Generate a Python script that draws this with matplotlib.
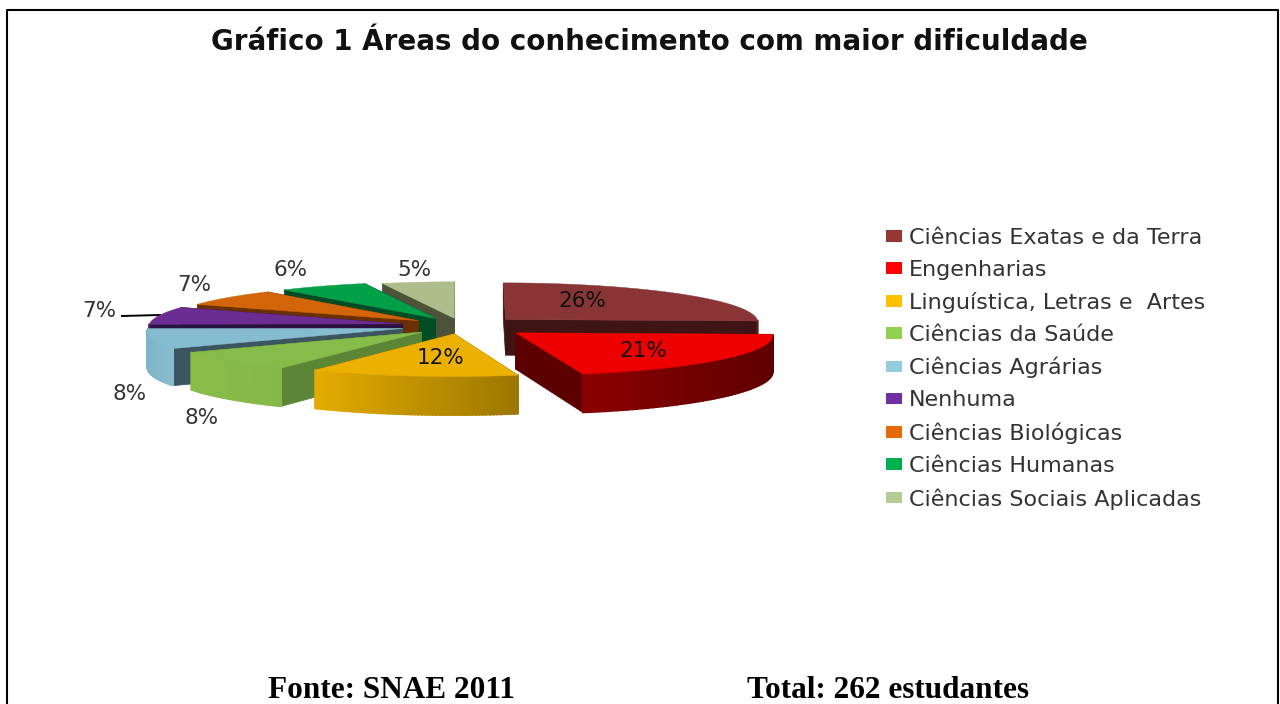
import numpy as np
import matplotlib
matplotlib.use("Agg")
import matplotlib.pyplot as plt
from matplotlib.patches import Patch

# data, clockwise from 12 o'clock
categories = ["Ciências Exatas e da Terra", "Engenharias", "Linguística, Letras e  Artes",
              "Ciências da Saúde", "Ciências Agrárias", "Nenhuma",
              "Ciências Biológicas", "Ciências Humanas", "Ciências Sociais Aplicadas"]
shares = [25.6, 20.6, 12.4, 8.2, 8.1, 7.2, 7.0, 6.0, 4.9]

top_colors = ["#893535", "#ee0000", "#ecb100", "#86bc4a", "#86bccf", "#6b2d92", "#d2640a", "#00a049", "#aebd8c"]
wall_colors = ["#3e1414", "#5c0000", "#8a6800", "#5c8535", "#3d5560", "#2a1240", "#6a3000", "#004d25", "#4d5338"]
rim_left = ["#5c2020", "#8c0000", "#e3ac00", "#8abd4a", "#7fb4c8", "#4f2070", "#a04d08", "#007a38", "#8a9a70"]
rim_right = ["#5c2020", "#5e0000", "#9c7600", "#84b848", "#8abdd0", "#4f2070", "#a04d08", "#007a38", "#8a9a70"]
legend_colors = ["#953735", "#ff0000", "#ffc000", "#92d050", "#93cddd", "#7030a0", "#e36c09", "#00b050", "#b7cc94"]
explode = [0.24, 0.27, 0.2, 0.22, 0.24, 0.24, 0.22, 0.22, 0.2]

# projection settings
cx, cy = 462, 326
radius = 254
tilt = 0.155
depth = 18
height = 36


def project(x, y, z=0.0):
    s = 1 / (1 - np.asarray(y) / depth)
    return cx + radius * s * np.asarray(x), cy + radius * tilt * s * np.asarray(y) + height * s * z


def lerp_color(c1, c2, t):
    a = np.array(matplotlib.colors.to_rgb(c1))
    b = np.array(matplotlib.colors.to_rgb(c2))
    return a + (b - a) * t


fig = plt.figure(figsize=(12.8, 7.04), dpi=100)
ax = fig.add_axes([0, 0, 1, 1])
ax.set_xlim(0, 1280)
ax.set_ylim(704, 0)
ax.axis("off")

edges = np.cumsum([0] + shares) / sum(shares) * 2 * np.pi
wedges = []
for i in range(len(shares)):
    wedges.append((np.cos((edges[i] + edges[i + 1]) / 2), i))

# paint from the back to the front
for _, i in sorted(wedges, reverse=True):
    a0, a1 = edges[i], edges[i + 1]
    mid = (a0 + a1) / 2
    ox, oy = explode[i] * np.sin(mid), -explode[i] * np.cos(mid)
    theta = np.linspace(a0, a1, 60)
    rx, ry = ox + np.sin(theta), oy - np.cos(theta)

    # cut faces
    for px, py in ((rx[0], ry[0]), (rx[-1], ry[-1])):
        x0, y0 = project(ox, oy)
        x1, y1 = project(px, py)
        x2, y2 = project(px, py, 1)
        x3, y3 = project(ox, oy, 1)
        ax.fill([x0, x1, x2, x3], [y0, y1, y2, y3], color=wall_colors[i], lw=0.5, zorder=3)

    # outer rim, shaded across the wedge
    xs, ys = project(rx, ry)
    xb, yb = project(rx, ry, 1)
    xmin, xmax = xs.min(), xs.max()
    for k in range(len(theta) - 1):
        if np.cos((theta[k] + theta[k + 1]) / 2) >= 0:
            continue
        t = ((xs[k] + xs[k + 1]) / 2 - xmin) / (xmax - xmin)
        ax.fill([xs[k], xs[k + 1], xb[k + 1], xb[k]], [ys[k], ys[k + 1], yb[k + 1], yb[k]],
                color=lerp_color(rim_left[i], rim_right[i], t), lw=1.2, zorder=3)

    # top face
    ax_, ay_ = project(ox, oy)
    ax.fill(np.r_[ax_, xs], np.r_[ay_, ys], color=top_colors[i], lw=0.3, zorder=3)

# labels
label_text = [f"{v:.0f}%" for v in shares]
label_x = [582, 643, 441, 202, 130, 99, 194, 291, 414]
label_y = [301, 351, 358, 418, 394, 311, 285, 270, 270]
label_color = ["#111111", "#111111", "#111111", "#333333", "#333333", "#333333", "#333333", "#333333", "#333333"]
for t, x, y, c in zip(label_text, label_x, label_y, label_color):
    ax.text(x, y, t, ha="center", va="center", fontsize=15.5, color=c, zorder=5)
ax.plot([122, 160], [316, 315], color="black", lw=1.4, zorder=2)

handles = [Patch(facecolor=c, edgecolor="none") for c in legend_colors]
ax.legend(handles, categories, loc="upper left", bbox_to_anchor=(886 / 1280, 1 - 228 / 704),
          frameon=False, fontsize=16, labelcolor="#333333", handlelength=0.73, handleheight=0.42,
          handletextpad=0.3, labelspacing=0.54, borderpad=0, borderaxespad=0)

ax.text(649.5, 42, "Gráfico 1 Áreas do conhecimento com maior dificuldade", ha="center", va="center",
        fontsize=20, fontweight="bold", color="#111111")
ax.text(391, 690, "Fonte: SNAE 2011", ha="center", va="center", family="Liberation Serif",
        fontsize=22.5, fontweight="bold", color="black")
ax.text(888, 690, "Total: 262 estudantes", ha="center", va="center", family="Liberation Serif",
        fontsize=22.5, fontweight="bold", color="black")

# page frame
ax.plot([7, 7, 1278, 1278], [704, 10, 10, 704], color="black", lw=1.5, zorder=1)

fig.savefig("out.png", dpi=100)
